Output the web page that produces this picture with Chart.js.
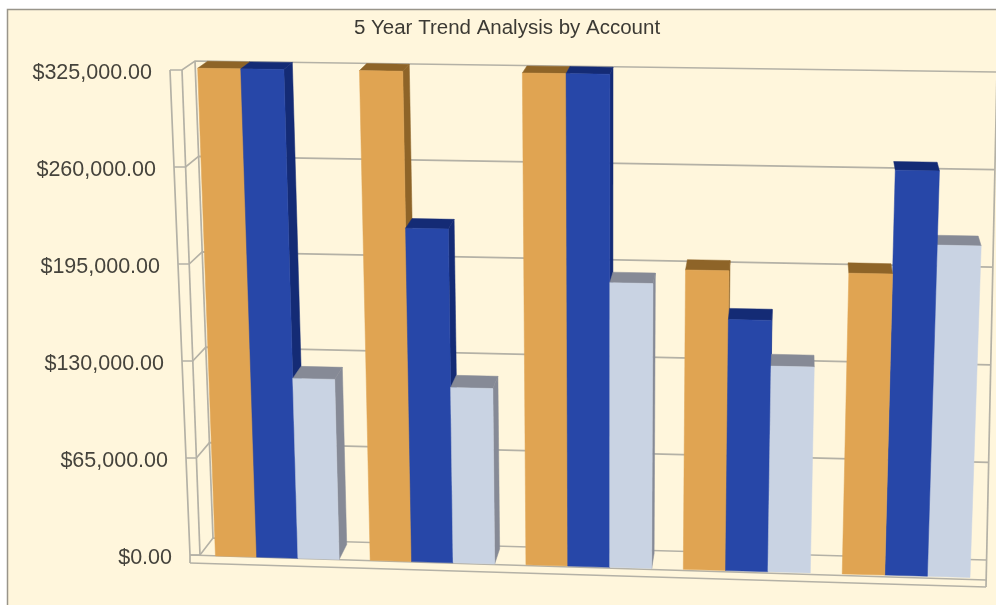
<!DOCTYPE html>
<html>
<head>
<meta charset="utf-8">
<style>
html,body{margin:0;padding:0;background:#fff;overflow:hidden}
#wrap{position:relative;width:996px;height:605px}
canvas{display:block;filter:blur(0.7px)}
</style>
<script src="https://cdn.jsdelivr.net/npm/chart.js@4/dist/chart.umd.min.js"></script>
</head>
<body>
<div id="wrap"><canvas id="c" width="996" height="605"></canvas></div>
<script>
const categories = ["Account 1","Account 2","Account 3","Account 4","Account 5"];
const seriesA = [325000,325000,325000,197000,197000];
const seriesB = [325000,221000,325000,165000,265000];
const seriesC = [119600,116000,187600,135000,216500];
const tickStep = 65000;
const axisMax = 325000;
const titleText = "5 Year Trend Analysis by Account";

const faces = [
  {front:"#E0A452", side:"#8E6428", cap:"#8E6428"},
  {front:"#2747A8", side:"#142B75", cap:"#142B75"},
  {front:"#C9D3E3", side:"#868A96", cap:"#868A96"}
];
const GRID = "#b4b1a6";

function lerp(a,b,t){return a+(b-a)*t;}
function quad(q,u,v){ // q: BL BR TR TL
  const bx=lerp(q[0][0],q[1][0],u), by=lerp(q[0][1],q[1][1],u);
  const tx=lerp(q[3][0],q[2][0],u), ty=lerp(q[3][1],q[2][1],u);
  return [lerp(bx,tx,v),lerp(by,ty,v)];
}
const frontQ=[[200,555.5],[986,578],[1003.5,80],[181.5,68]];
const backQ=[[213,538],[986,560],[997,72],[195,61]];
const VP=[800,-357], K=0.0164;
function warpU(u){return u-0.0055*Math.sin(Math.PI*u);}
function deep(p){return [p[0]+(VP[0]-p[0])*K,p[1]+(VP[1]-p[1])*K];}
function poly(ctx,pts,fill){
  ctx.beginPath();pts.forEach((p,i)=>i?ctx.lineTo(p[0],p[1]):ctx.moveTo(p[0],p[1]));ctx.closePath();
  ctx.fillStyle=fill;ctx.strokeStyle=fill;ctx.lineWidth=0.5;ctx.fill();ctx.stroke();
}
function line(ctx,pts,w){
  ctx.beginPath();pts.forEach((p,i)=>i?ctx.lineTo(p[0],p[1]):ctx.moveTo(p[0],p[1]));
  ctx.strokeStyle=GRID;ctx.lineWidth=w||1.7;ctx.stroke();
}
function edgeA(v){return [lerp(190,170,v),lerp(555,70,v)];}
function edgeB(v){return [lerp(200,182,v),lerp(555,70,v)];}

const scene={
  id:"scene",
  beforeDraw(chart){
    const c=chart.ctx;
    c.save();
    c.fillStyle="#fff";c.fillRect(0,0,996,605);
    c.fillStyle="#FFF6DC";c.fillRect(7,9,989,596);
    c.strokeStyle="#99958a";c.lineWidth=1.5;
    c.beginPath();c.moveTo(7.5,605);c.lineTo(7.5,9.5);c.lineTo(996,9.5);c.stroke();
    c.restore();
  },
  beforeDatasetsDraw(chart){
    const c=chart.ctx, a=chart.chartArea, ys=chart.scales.y;
    const U=x=>warpU((x-a.left)/(a.right-a.left)), V=y=>(a.bottom-y)/(a.bottom-a.top);
    c.save();
    // walls, grid, tick labels
    ys.ticks.forEach(t=>{
      const v=V(ys.getPixelForValue(t.value));
      line(c,[edgeA(v),edgeB(v),quad(backQ,0,v),quad(backQ,1,v)]);
      const p=edgeA(v);
      c.fillStyle="#45433c";c.font='21.5px "Liberation Sans"';c.textAlign="right";c.textBaseline="middle";
      c.fillText(t.label,p[0]-18,p[1]+3);
    });
    line(c,[edgeA(1),edgeA(0),[190,563]]);
    line(c,[edgeB(1),edgeB(0)]);
    line(c,[quad(backQ,0,1),quad(backQ,0,0)]);
    line(c,[quad(backQ,1,1),[986,587]]);
    line(c,[[190,563],[986,587]]);
    line(c,[[190,555],[986,580]]);
    // bars: from the library's own computed elements
    const bars=[];
    chart.data.datasets.forEach((d,i)=>{
      chart.getDatasetMeta(i).data.forEach(el=>{
        const p=el.getProps(["x","y","base","width"],true);
        const u0=U(p.x-p.width/2),u1=U(p.x+p.width/2),v0=V(p.base),v1=V(p.y);
        bars.push({i,u0,u1,v0,v1,mid:quad(frontQ,(u0+u1)/2,0)[0]});
      });
    });
    bars.sort((a1,b1)=>Math.abs(b1.mid-VP[0])-Math.abs(a1.mid-VP[0]));
    bars.forEach(b=>{
      const f=faces[b.i];
      const bl=quad(frontQ,b.u0,b.v0),br=quad(frontQ,b.u1,b.v0),tr=quad(frontQ,b.u1,b.v1),tl=quad(frontQ,b.u0,b.v1);
      if(br[0]<VP[0]) poly(c,[br,tr,deep(tr),deep(br)],f.side);
      poly(c,[tl,tr,deep(tr),deep(tl)],f.cap);
      poly(c,[bl,br,tr,tl],f.front);
    });
    c.restore();
    return false;
  }
};

new Chart(document.getElementById("c"),{
  type:"bar",
  data:{labels:categories,datasets:[
    {label:"Series A",data:seriesA,backgroundColor:faces[0].front},
    {label:"Series B",data:seriesB,backgroundColor:faces[1].front},
    {label:"Series C",data:seriesC,backgroundColor:faces[2].front}
  ]},
  options:{
    responsive:false,animation:false,devicePixelRatio:1,
    layout:{padding:{left:28,right:10,top:16,bottom:48}},
    datasets:{bar:{barPercentage:1,categoryPercentage:0.8}},
    scales:{
      x:{display:false},
      y:{min:0,max:axisMax,afterFit(s){s.width=172;},
         ticks:{display:false,stepSize:tickStep,callback:v=>"$"+v.toLocaleString("en-US",{minimumFractionDigits:2,maximumFractionDigits:2})},
         grid:{display:false},border:{display:false}}
    },
    plugins:{
      legend:{display:false},tooltip:{enabled:false},
      title:{display:true,text:titleText,color:"#3c3a34",font:{family:"Liberation Sans",size:20.5,weight:"normal"},padding:{top:0,bottom:16}}
    }
  },
  plugins:[scene]
});
</script>
</body>
</html>
